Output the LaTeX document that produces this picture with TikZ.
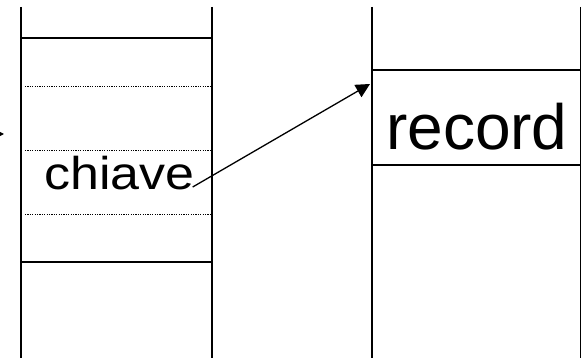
\documentclass[tikz,border=0pt]{standalone}
\usepackage{fontspec}
\setmainfont{Liberation Sans}
\usetikzlibrary{arrows.meta}
\begin{document}
\begin{tikzpicture}[x=1pt,y=-1pt,
  wall/.style={line width=1.5pt},
  sep/.style={line width=1.7pt},
  dots/.style={line width=0.9pt, dash pattern=on 1.2pt off 1.2pt},
  arr/.style={line width=1.3pt, -{Triangle[length=14pt,width=14pt]}},
  lbl/.style={inner sep=0pt, anchor=base west}]
\useasboundingbox (0,0) rectangle (582,358);
% left column
\draw[wall] (21,7) -- (21,358);
\draw[wall] (212,7) -- (212,358);
\draw[sep] (21,38) -- (212,38);
\draw[sep] (21,262) -- (212,262);
\draw[dots] (25,86) -- (210,86);
\draw[dots] (25,150) -- (210,150);
\draw[dots] (25,214) -- (210,214);
% right column
\draw[wall] (372,7) -- (372,358);
\draw[wall] (580.5,7) -- (580.5,358);
\draw[sep] (372,70) -- (580.5,70);
\draw[sep] (372,165) -- (580.5,165);
% labels
\node[lbl, xscale=1.13, font=\fontsize{46}{55}\selectfont] (chiave) at (44,190) {chiave};
\node[lbl, font=\fontsize{64}{76}\selectfont] (record) at (386,150) {record};
% arrows
\coordinate (tip) at (370,84);
\coordinate (instart) at (-20,134);
\coordinate (inend) at (4,134);
\draw[arr] ([xshift=-2pt,yshift=3pt]chiave.base east) -- (tip);
\draw[arr] (instart) -- (inend);
\end{tikzpicture}
\end{document}
